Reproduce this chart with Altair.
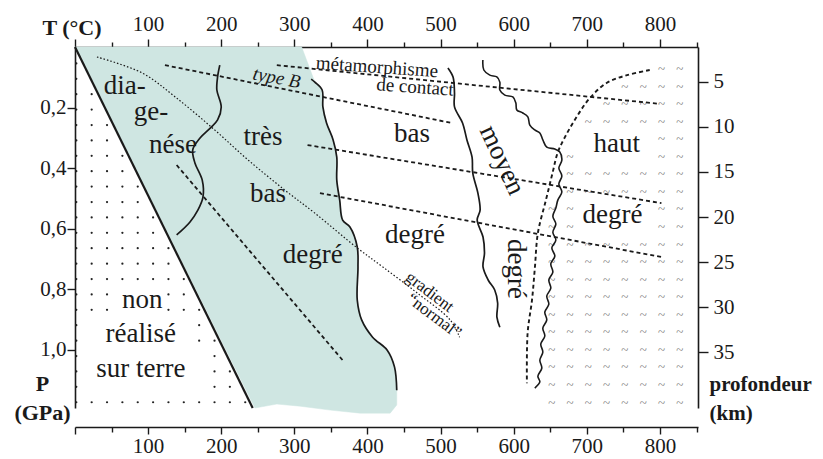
import altair as alt
import pandas as pd
import numpy as np

FONT = "Liberation Serif"
INK = "#1a1a1a"
TEAL = "#cfe6e2"

T_MAX = 852
P_MAX = 1.193
DEPTH_DOMAIN = [1.13, 41.2]

t_ticks = list(range(0, 851, 50))
p_ticks = [0.2, 0.4, 0.6, 0.8, 1.0]
depth_ticks = [5, 10, 15, 20, 25, 30, 35]

# shaded field (diagenesis + very low grade), T (°C) / P (GPa)
teal_T = [0, 310, 328, 338, 339, 344, 353, 358, 358, 362, 366, 376, 386, 387, 386, 392, 407, 427, 437, 440,
          440, 431, 390, 349, 308, 276, 246]
teal_P = [0, 0, 0.116, 0.142, 0.198, 0.251, 0.307, 0.364, 0.440, 0.506, 0.572, 0.595, 0.661, 0.727, 0.836,
          0.902, 0.959, 1.002, 1.058, 1.134, 1.183, 1.210, 1.210, 1.200, 1.187, 1.180, 1.193]

# "non réalisé sur terre" limit
limit_T = [0, 243]
limit_P = [0, 1.193]

# solid wavy boundaries
diag_T = [198, 195, 194, 200, 195, 185, 171, 161, 164, 174, 175, 168, 157, 139]
diag_P = [0.060, 0.099, 0.142, 0.198, 0.241, 0.268, 0.301, 0.340, 0.383, 0.440, 0.496, 0.539, 0.579, 0.621]
low_T = [323, 328, 338, 339, 344, 353, 358, 358, 362, 366, 376, 386, 387, 386, 392, 407, 427, 437, 440]
low_P = [0.106, 0.116, 0.142, 0.198, 0.251, 0.307, 0.364, 0.440, 0.506, 0.572, 0.595, 0.661, 0.727, 0.836,
         0.902, 0.959, 1.002, 1.058, 1.134]
mid_T = [510, 517, 519, 519, 530, 536, 543, 544, 551, 554, 550, 558, 560, 558, 565, 574, 578, 577, 581]
mid_P = [0.069, 0.099, 0.152, 0.198, 0.251, 0.307, 0.364, 0.417, 0.483, 0.539, 0.572, 0.628, 0.681, 0.727,
         0.770, 0.803, 0.846, 0.893, 0.926]
high_T = [557.8, 559.1, 567.3, 576.9, 581.0, 581.0, 587.8, 598.8, 602.9, 604.2, 612.4, 619.3, 622.0, 628.8,
          635.7, 639.8, 645.2, 656.2, 663.0, 665.8, 661.7, 665.8, 661.7, 665.8, 660.3, 657.6, 653.5, 657.6,
          653.5, 657.6, 652.1, 656.2, 650.7, 653.5, 648.0, 650.7, 645.2, 648.0, 642.5, 645.2, 639.8, 642.5,
          637.0, 639.8, 635.7, 638.4, 633.0, 635.7, 628.8]
high_P = [0.043, 0.076, 0.093, 0.099, 0.116, 0.142, 0.159, 0.165, 0.185, 0.208, 0.218, 0.231, 0.258, 0.274,
          0.284, 0.307, 0.331, 0.337, 0.347, 0.374, 0.400, 0.426, 0.453, 0.479, 0.506, 0.532, 0.559, 0.585,
          0.612, 0.638, 0.664, 0.691, 0.717, 0.744, 0.770, 0.797, 0.823, 0.850, 0.876, 0.902, 0.929, 0.955,
          0.982, 1.008, 1.035, 1.061, 1.088, 1.107, 1.127]

# dashed boundaries
haut_T = [786, 755, 727, 704, 686, 670, 660, 653, 644, 633, 629, 625, 619, 618]
haut_P = [0.076, 0.093, 0.119, 0.169, 0.231, 0.298, 0.350, 0.417, 0.506, 0.615, 0.727, 0.836, 0.945, 1.111]
typeB_T = [123, 515]
typeB_P = [0.060, 0.251]
contact_T = [276, 800]
contact_P = [0.060, 0.188]
iso1_T = [318, 802]
iso1_P = [0.324, 0.516]
iso2_T = [335, 802]
iso2_P = [0.483, 0.694]
iso3_T = [139, 366]
iso3_P = [0.390, 1.035]

# "gradient normal" dotted curve
grad_T = [30, 92, 137, 191, 237, 287, 328, 386, 421, 468, 513, 526]
grad_P = [0.033, 0.086, 0.165, 0.274, 0.374, 0.473, 0.549, 0.664, 0.727, 0.813, 0.902, 0.959]

# labels
big_text = ["dia-", "ge-", "nése", "très", "bas", "degré", "bas", "degré", "haut", "degré",
            "non", "réalisé", "sur terre"]
big_T = [68, 104, 134, 257, 264, 325, 461, 465, 741, 735, 92, 90, 90]
big_P = [0.155, 0.241, 0.350, 0.324, 0.512, 0.714, 0.314, 0.648, 0.347, 0.582, 0.863, 0.975, 1.091]

rot_text = ["moyen", "degré"]
rot_T = [584, 603]
rot_P = [0.374, 0.734]
rot_ang = [65, 90]

small_text = ["métamorphisme", "de contact"]
small_T = [413, 465]
small_P = [0.066, 0.132]
small_ang = [4, 4]

typeB_text = ["type B"]
typeB_lT = [276]
typeB_lP = [0.102]
typeB_ang = [11]

grad_text = ["gradient", "\u201cnormal\u201d"]
grad_lT = [485, 491]
grad_lP = [0.810, 0.889]
grad_ang = [37, 37]


def curve(name, T, P):
    return pd.DataFrame({"id": name, "i": list(range(len(T))), "T": T, "P": P})


# approximate boxes of the big labels (textures are kept clear of the words)
def under_label(t, p):
    for txt, lt, lp in zip(big_text, big_T, big_P):
        half_t = len(txt) * 0.24 * 27 / 0.7315 + 6
        if abs(t - lt) < half_t and (lp - 0.085) < p < (lp + 0.035):
            return True
    return False


xs = alt.Scale(domain=[0, T_MAX], nice=False, zero=False)
ys = alt.Scale(domain=[0, P_MAX], nice=False, zero=False, reverse=True)
ds = alt.Scale(domain=DEPTH_DOMAIN, nice=False, zero=False, reverse=True)

top_axis = alt.Axis(
    orient="top", values=t_ticks, format="d",
    labelExpr="(datum.value % 100 == 0 && datum.value > 0 && datum.value < 850) ? datum.label : ''",
    tickSize={"condition": {"test": "datum.value % 100 == 0", "value": 8}, "value": 5},
    labelPadding=5, labelOverlap=False, labelFlush=False,
    title="T (°C)", titleFontWeight="bold", titleFontSize=22, titleAngle=0,
    titleAlign="right", titleBaseline="alphabetic", titleX=26, titleY=-13,
)
bottom_axis = alt.Axis(
    orient="bottom", values=t_ticks, format="d", offset=19,
    labelExpr="(datum.value % 100 == 0 && datum.value > 0 && datum.value < 850) ? datum.label : ''",
    tickSize={"condition": {"test": "datum.value % 100 == 0", "value": 7}, "value": 5},
    labelPadding=1, labelOverlap=False, labelFlush=False, title=None,
)
left_axis = alt.Axis(
    orient="left", values=p_ticks,
    labelExpr="replace(format(datum.value, '.1f'), '.', ',')",
    tickSize=8, labelPadding=1, labelOverlap=False, labelFlush=False,
    title=["P", "(GPa)"], titleFontWeight="bold", titleFontSize=22, titleAngle=0,
    titleAlign="center", titleBaseline="alphabetic", titleX=-33, titleY=343, titleLineHeight=29,
)
right_axis = alt.Axis(
    orient="right", values=depth_ticks,
    tickSize=10, labelPadding=5, labelOverlap=False, labelFlush=False,
    title=["profondeur", "(km)"], titleFontWeight="bold", titleFontSize=21, titleAngle=0,
    titleAlign="left", titleBaseline="alphabetic", titleX=11, titleY=343, titleLineHeight=29,
)

X = alt.X("T:Q", scale=xs, axis=top_axis)
Y = alt.Y("P:Q", scale=ys, axis=left_axis)

teal = alt.Chart(curve("teal", teal_T, teal_P)).mark_line(
    interpolate="linear-closed", fill=TEAL, stroke=TEAL, strokeWidth=0.5
).encode(x=X, y=Y, order="i:Q")

# dotted texture of the impossible domain
dot_cols = np.arange(1.8, 250, 21.0)
dot_rows = np.arange(1.174, 0.0, -0.0509)
slope = limit_T[1] / limit_P[1]
dots_df = pd.DataFrame([(t, p) for t in dot_cols for p in dot_rows
                        if t < slope * p - 6 and not under_label(t, p)], columns=["T", "P"])
dots = alt.Chart(dots_df).mark_circle(size=5, color="#222", opacity=1).encode(x=X, y=Y)

# tilde texture of the high-grade domain
tcols = np.arange(827, 560, -25.0)
trows = np.arange(0.073, 1.18, 0.058)
til = []
for p in trows:
    b = np.interp(p, haut_P, haut_T)
    for t in tcols:
        if t > b + 10 and not under_label(t, p):
            til.append((t, p))
tilde_df = pd.DataFrame(til, columns=["T", "P"])
tildes = alt.Chart(tilde_df).mark_text(text="~", fontSize=13, color="#777777", font=FONT,
                                       baseline="middle").encode(x=X, y=Y)

limit = alt.Chart(curve("limit", limit_T, limit_P)).mark_line(color=INK, strokeWidth=2.2).encode(
    x=X, y=Y, order="i:Q")

solid_df = pd.concat([curve("diag", diag_T, diag_P), curve("low", low_T, low_P),
                      curve("mid", mid_T, mid_P)])
solid = alt.Chart(solid_df).mark_line(color=INK, strokeWidth=1.7, interpolate="catmull-rom").encode(
    x=X, y=Y, detail="id:N", order="i:Q")
high = alt.Chart(curve("high", high_T, high_P)).mark_line(color=INK, strokeWidth=1.6,
                                                         interpolate="catmull-rom").encode(
    x=X, y=Y, order="i:Q")

dash_df = pd.concat([curve("typeB", typeB_T, typeB_P), curve("contact", contact_T, contact_P),
                     curve("iso1", iso1_T, iso1_P), curve("iso2", iso2_T, iso2_P),
                     curve("iso3", iso3_T, iso3_P)])
dashed = alt.Chart(dash_df).mark_line(color=INK, strokeWidth=1.8, strokeDash=[4, 3]).encode(
    x=X, y=Y, detail="id:N", order="i:Q")
haut = alt.Chart(curve("haut", haut_T, haut_P)).mark_line(color=INK, strokeWidth=1.9, strokeDash=[4, 3],
                                                         interpolate="catmull-rom").encode(
    x=X, y=Y, order="i:Q")
grad = alt.Chart(curve("grad", grad_T, grad_P)).mark_line(color=INK, strokeWidth=1.2, strokeDash=[1.5, 2],
                                                         interpolate="catmull-rom").encode(
    x=X, y=Y, order="i:Q")

big = alt.Chart(pd.DataFrame({"txt": big_text, "T": big_T, "P": big_P})).mark_text(
    font=FONT, fontSize=27, color=INK, align="center", baseline="alphabetic").encode(x=X, y=Y, text="txt:N")
rot = alt.Chart(pd.DataFrame({"txt": rot_text, "T": rot_T, "P": rot_P, "a": rot_ang})).mark_text(
    font=FONT, fontSize=27, color=INK, align="center", baseline="middle").encode(
    x=X, y=Y, text="txt:N", angle=alt.Angle("a:Q", scale=None))
small = alt.Chart(pd.DataFrame({"txt": small_text, "T": small_T, "P": small_P, "a": small_ang})).mark_text(
    font=FONT, fontSize=19, color=INK, align="center", baseline="middle").encode(
    x=X, y=Y, text="txt:N", angle=alt.Angle("a:Q", scale=None))
tb = alt.Chart(pd.DataFrame({"txt": typeB_text, "T": typeB_lT, "P": typeB_lP, "a": typeB_ang})).mark_text(
    font=FONT, fontSize=19, fontStyle="italic", color=INK, align="center", baseline="middle").encode(
    x=X, y=Y, text="txt:N", angle=alt.Angle("a:Q", scale=None))
gl = alt.Chart(pd.DataFrame({"txt": grad_text, "T": grad_lT, "P": grad_lP, "a": grad_ang})).mark_text(
    font=FONT, fontSize=17, color=INK, align="center", baseline="middle").encode(
    x=X, y=Y, text="txt:N", angle=alt.Angle("a:Q", scale=None))

inner = alt.layer(teal, dots, tildes, limit, solid, high, dashed, haut, grad, big, rot, small, tb, gl)

depth_layer = alt.Chart(pd.DataFrame({"depth": depth_ticks, "T": [0] * len(depth_ticks)})).mark_point(
    opacity=0).encode(
    x=alt.X("T:Q", scale=xs, axis=bottom_axis),
    y=alt.Y("depth:Q", scale=ds, axis=right_axis),
)

chart = alt.layer(inner, depth_layer).resolve_scale(y="independent").resolve_axis(
    x="independent", y="independent"
).properties(
    width=623, height=361,
    autosize=alt.AutoSizeParams(type="none"),
    padding={"left": 67, "top": 39, "right": 117, "bottom": 50},
).configure_view(stroke=None).configure_axis(
    grid=False, domainColor=INK, domainWidth=1.6, tickColor=INK, tickWidth=1.4,
    labelFont=FONT, labelFontSize=21, labelColor=INK, titleFont=FONT, titleColor=INK,
)

chart.save("out.html", embed_options={"renderer": "svg", "actions": False})
